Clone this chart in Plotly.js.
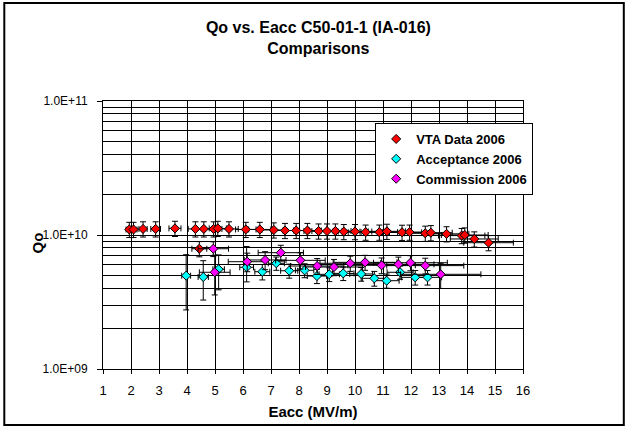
<!DOCTYPE html>
<html>
<head>
<meta charset="utf-8">
<script src="https://cdn.plot.ly/plotly-3.0.1.min.js"></script>
<style>html,body{margin:0;padding:0;background:#fff;}#chart{width:628px;height:428px;}</style>
</head>
<body>
<div id="chart"></div>
<script>
// ---- Data ----
const vtaX = [1.94, 2.09, 2.43, 2.88, 3.57, 4.3, 4.44, 4.6, 4.95, 5.1, 5.5, 6.1, 6.6, 7.1, 7.5, 7.9, 8.3, 8.7, 9.0, 9.3, 9.6, 10.0, 10.38, 10.87, 11.14, 11.68, 11.95, 12.51, 12.71, 13.27, 13.81, 13.92, 14.26, 14.77];
const vtaY = [1.10e10, 1.10e10, 1.11e10, 1.11e10, 1.12e10, 1.11e10, 7.9e9, 1.11e10, 1.11e10, 1.12e10, 1.11e10, 1.10e10, 1.10e10, 1.09e10, 1.08e10, 1.08e10, 1.08e10, 1.07e10, 1.07e10, 1.07e10, 1.06e10, 1.06e10, 1.05e10, 1.05e10, 1.065e10, 1.047e10, 1.05e10, 1.03e10, 1.04e10, 1.02e10, 0.99e10, 1.0e10, 0.934e10, 0.876e10];

const accX = [3.97, 4.58, 5.13, 6.13, 6.69, 7.19, 7.65, 8.2, 8.64, 9.08, 9.58, 10.22, 10.69, 11.13, 11.61, 12.15, 12.59];
const accY = [4.97e9, 4.86e9, 5.55e9, 5.74e9, 5.32e9, 6.15e9, 5.41e9, 5.45e9, 4.94e9, 5.09e9, 5.17e9, 5.12e9, 4.75e9, 4.56e9, 5.27e9, 4.83e9, 4.83e9];
const accErrUp = [2.16e9, 1.57e9, 1.55e9, 2.46e9, 0.7e9, 0.7e9, 0.65e9, 0.65e9, 0.6e9, 0.6e9, 0.6e9, 0.6e9, 0.6e9, 0.55e9, 0.6e9, 0.6e9, 0.6e9];
const accErrDn = [2.21e9, 1.59e9, 1.65e9, 1.27e9, 0.7e9, 0.7e9, 0.65e9, 0.65e9, 0.6e9, 0.6e9, 0.6e9, 0.6e9, 0.6e9, 0.55e9, 0.6e9, 0.6e9, 0.6e9];

const comX = [4.94, 4.99, 6.15, 6.79, 7.35, 8.05, 8.65, 9.25, 9.83, 10.36, 10.95, 11.55, 11.98, 12.51, 13.06];
const comY = [7.9e9, 5.27e9, 6.32e9, 6.51e9, 7.38e9, 6.47e9, 5.87e9, 5.77e9, 6.15e9, 6.25e9, 5.94e9, 6.04e9, 6.21e9, 5.91e9, 5.09e9];
const comErrUp = [1.0e9, 1.8e9, 1.0e9, 1.0e9, 1.0e9, 0.9e9, 0.8e9, 0.8e9, 0.8e9, 0.8e9, 0.8e9, 0.8e9, 0.8e9, 0.8e9, 1.06e9];
const comErrDn = [1.0e9, 1.7e9, 1.0e9, 1.0e9, 1.0e9, 0.9e9, 0.8e9, 0.8e9, 0.8e9, 0.8e9, 0.8e9, 0.8e9, 0.8e9, 0.8e9, 1.1e9];

const seriesNames = ["VTA Data 2006", "Acceptance 2006", "Commission 2006"];
const yTickVals = [1e9, 1e10, 1e11];
const yTickText = ["1.0E+09", "1.0E+10", "1.0E+11"];
const yMinorVals = [2e9,3e9,4e9,5e9,6e9,7e9,8e9,9e9,2e10,3e10,4e10,5e10,6e10,7e10,8e10,9e10];
const xTickVals = [1,2,3,4,5,6,7,8,9,10,11,12,13,14,15,16];

const FONT = "Arial, 'Liberation Sans', sans-serif";
const errStyle = {color: "#000", thickness: 1, width: 3};

function mk(color) {
  return {symbol: "diamond", size: 7, color: color, line: {color: "#000", width: 1}};
}

const traces = [
  {
    x: vtaX, y: vtaY, name: seriesNames[0], type: "scatter", mode: "markers",
    marker: mk("#FF0000"),
    error_y: Object.assign({type: "percent", value: 13}, errStyle),
    error_x: Object.assign({type: "percent", value: 6}, errStyle)
  },
  {
    x: accX, y: accY, name: seriesNames[1], type: "scatter", mode: "markers",
    marker: mk("#00FFFF"),
    error_y: Object.assign({type: "data", array: accErrUp, arrayminus: accErrDn, symmetric: false}, errStyle),
    error_x: Object.assign({type: "percent", value: 4}, errStyle)
  },
  {
    x: comX, y: comY, name: seriesNames[2], type: "scatter", mode: "markers",
    marker: mk("#FF00FF"),
    error_y: Object.assign({type: "data", array: comErrUp, arrayminus: comErrDn, symmetric: false}, errStyle),
    error_x: Object.assign({type: "percent", value: 11}, errStyle)
  }
];

const layout = {
  width: 628, height: 428,
  margin: {l: 103, r: 105, t: 101, b: 59, pad: 0},
  paper_bgcolor: "#fff", plot_bgcolor: "#fff",
  font: {family: FONT, size: 12, color: "#000"},
  showlegend: true,
  title: {
    text: "<b>Qo vs. Eacc C50-01-1 (IA-016)<br>Comparisons</b>",
    font: {family: FONT, size: 16, color: "#000"},
    x: 0.507, xanchor: "center", y: 0.922, yanchor: "middle", yref: "container"
  },
  xaxis: {
    range: [1, 16], tickmode: "array", tickvals: xTickVals,
    showgrid: true, gridcolor: "#000", gridwidth: 1,
    zeroline: false, showline: true, linecolor: "#000", linewidth: 1, mirror: true,
    ticks: "outside", ticklen: 4, tickcolor: "#000", ticklabelstandoff: 5,
    tickfont: {family: FONT, size: 13},
    title: {text: "<b>Eacc (MV/m)</b>", font: {family: FONT, size: 15}, standoff: 9}
  },
  yaxis: {
    type: "log", range: [9, 11], tickmode: "array", tickvals: yTickVals, ticktext: yTickText,
    showgrid: true, gridcolor: "#000", gridwidth: 1,
    zeroline: false, showline: true, linecolor: "#000", linewidth: 1, mirror: true,
    ticks: "outside", ticklen: 5, tickcolor: "#000", ticklabelstandoff: 7,
    tickfont: {family: FONT, size: 12},
    minor: {tickmode: "array", tickvals: yMinorVals, showgrid: true, gridcolor: "#000", gridwidth: 1, ticks: ""}
  },
  annotations: [
    {text: "<b>Qo</b>", xref: "paper", yref: "paper", x: -0.156, y: 0.47,
     xanchor: "center", yanchor: "middle", textangle: -90, showarrow: false,
     font: {family: FONT, size: 15, color: "#000"}}
  ],
  legend: {
    x: 0.648, xanchor: "left", y: 0.918, yanchor: "top",
    bgcolor: "#fff", bordercolor: "#000", borderwidth: 1,
    font: {family: FONT, size: 13, color: "#000", weight: "bold"},
    itemwidth: 30, tracegroupgap: 0
  },
  shapes: [
    {type: "rect", xref: "paper", yref: "paper", x0: -0.235, x1: 1.240, y0: -0.209, y1: 1.366,
     line: {color: "#000", width: 2}, fillcolor: "rgba(0,0,0,0)", layer: "below"}
  ]
};

Plotly.newPlot("chart", traces, layout, {displayModeBar: false, staticPlot: true});
</script>
</body>
</html>
